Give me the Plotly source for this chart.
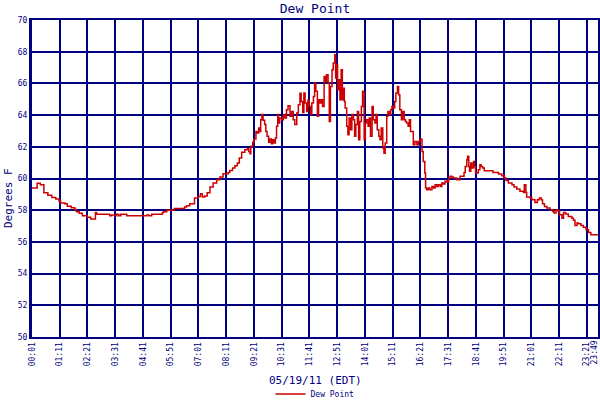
import plotly.graph_objects as go

# minutes after midnight on 05/19/11 (EDT)
minutes = [1, 14, 22, 31, 41, 51, 61, 69, 73, 84, 90, 100, 109, 113, 120, 128, 140, 149, 157, 161,
           164, 197, 202, 210, 215, 220, 225, 233, 240, 248, 291, 296, 303, 308, 330, 333, 341, 360,
           366, 386, 391, 399, 411, 420, 426, 431, 437, 443, 450, 458, 467, 475, 483, 496, 500, 507,
           513, 519, 524, 530, 538, 545, 548, 551, 553, 558, 561, 566, 569, 573, 576, 578, 581, 584,
           588, 591, 594, 598, 601, 605, 608, 611, 615, 618, 621, 623, 626, 631, 635, 639, 643, 647,
           652, 656, 660, 664, 669, 673, 677, 680, 684, 687, 690, 694, 697, 700, 704, 707, 711, 714,
           717, 721, 724, 727, 731, 734, 738, 741, 744, 748, 751, 754, 758, 761, 765, 767, 770, 772,
           775, 778, 781, 784, 786, 789, 791, 795, 798, 801, 805, 808, 812, 815, 818, 822, 825, 828,
           832, 835, 839, 842, 845, 849, 852, 855, 859, 862, 866, 869, 872, 876, 879, 882, 886, 889,
           892, 896, 899, 902, 906, 909, 913, 916, 919, 923, 926, 929, 933, 936, 940, 943, 946, 950,
           953, 956, 963, 967, 972, 976, 980, 984, 985, 988, 992, 994, 997, 1001, 1005, 1010, 1014,
           1018, 1022, 1026, 1031, 1035, 1039, 1043, 1048, 1052, 1056, 1060, 1064, 1073, 1081, 1091,
           1094, 1098, 1100, 1103, 1105, 1108, 1111, 1115, 1117, 1120, 1127, 1131, 1134, 1138, 1142,
           1164, 1178, 1186, 1193, 1197, 1203, 1212, 1217, 1224, 1232, 1241, 1243, 1247, 1249, 1258,
           1262, 1270, 1276, 1281, 1286, 1289, 1294, 1300, 1308, 1315, 1318, 1323, 1327, 1332, 1338,
           1342, 1347, 1354, 1363, 1367, 1371, 1376, 1380, 1386, 1392, 1399, 1405, 1411, 1429]

dew_point = [59.4, 59.7, 59.6, 59.1, 58.95, 58.8, 58.7, 58.6, 58.45, 58.4, 58.25, 58.15, 58.05, 57.9,
             57.8, 57.65, 57.55, 57.45, 57.45, 57.85, 57.75, 57.65, 57.7, 57.65, 57.75, 57.65, 57.75,
             57.75, 57.65, 57.65, 57.7, 57.65, 57.75, 57.75, 57.85, 57.9, 58.0, 58.1, 58.1, 58.2,
             58.28, 58.41, 58.77, 58.87, 59.04, 58.83, 58.9, 59.1, 59.46, 59.72, 59.92, 60.09, 60.3,
             60.38, 60.51, 60.66, 60.8, 60.98, 61.29, 61.65, 61.82, 61.88, 61.71, 61.56, 62.03, 62.28,
             62.49, 62.97, 62.87, 63.19, 62.97, 63.71, 64.03, 63.67, 63.4, 62.97, 62.66, 62.28, 62.49,
             62.2, 62.45, 62.24, 62.56, 63.29, 64.03, 63.5, 63.82, 63.71, 64.03, 63.82, 64.34, 64.59,
             63.92, 64.23, 63.71, 63.4, 64.13, 64.66, 65.38, 64.86, 64.17, 65.4, 64.76, 64.23, 64.93,
             64.55, 64.03, 64.76, 65.18, 66.03, 65.5, 63.92, 64.97, 64.76, 64.97, 64.55, 66.44, 66.13,
             66.55, 66.03, 63.6, 65.81, 66.86, 67.29, 67.81, 66.34, 67.18, 65.6, 66.23, 64.97, 66.86,
             64.97, 65.7, 64.86, 64.45, 63.29, 62.76, 63.82, 63.08, 64.03, 63.71, 62.66, 63.4, 64.23,
             62.45, 63.6, 64.55, 65.5, 62.45, 63.5, 63.71, 63.29, 63.82, 62.66, 64.55, 63.71, 63.5,
             64.03, 63.08, 62.66, 62.45, 63.19, 61.92, 61.6, 62.24, 63.92, 64.23, 64.03, 64.34, 64.55,
             64.45, 64.86, 65.4, 65.81, 65.29, 64.34, 63.71, 64.23, 63.71, 63.6, 63.5, 63.29, 63.71,
             62.97, 62.13, 62.34, 62.13, 62.34, 62.49, 62.45, 61.71, 61.08, 60.35, 59.4, 59.29, 59.4,
             59.29, 59.5, 59.4, 59.61, 59.5, 59.61, 59.5, 59.72, 59.66, 59.82, 59.76, 60.03, 60.14,
             60.09, 60.03, 59.92, 60.14, 60.38, 60.76, 61.19, 61.4, 60.76, 60.45, 60.98, 60.66, 61.08,
             60.76, 60.35, 60.55, 60.87, 60.76, 60.66, 60.49, 60.38, 60.28, 60.18, 60.03, 59.88,
             59.72, 59.61, 59.46, 59.33, 59.19, 59.12, 59.61, 59.12, 58.83, 58.77, 58.66, 58.49,
             58.66, 58.77, 58.66, 58.41, 58.24, 58.14, 58.03, 57.92, 57.82, 58.03, 57.97, 57.72,
             57.5, 57.86, 57.76, 57.6, 57.5, 57.36, 57.03, 57.2, 57.14, 57.03, 56.92, 56.77, 56.6,
             56.45, 56.45]

tick_minutes = [1, 71, 141, 211, 281, 351, 421, 491, 561, 631, 701, 771, 841, 911, 981, 1051,
                1121, 1191, 1261, 1331, 1401, 1429]
tick_labels = ["00:01", "01:11", "02:21", "03:31", "04:41", "05:51", "07:01", "08:11", "09:21",
               "10:31", "11:41", "12:51", "14:01", "15:11", "16:21", "17:31", "18:41", "19:51",
               "21:01", "22:11", "23:21", "23:49"]
y_ticks = [50, 52, 54, 56, 58, 60, 62, 64, 66, 68, 70]

NAVY = "#000080"
RED = "#CC0000"
FONT = "DejaVu Sans Mono"

# last tick label is drawn as an annotation so that it stays inside the page edge
axis_text = tick_labels[:-1] + [""]

fig = go.Figure()
fig.add_trace(go.Scatter(x=minutes, y=dew_point, mode="lines", name="Dew Point",
                         line=dict(color=RED, width=1.5, shape="hv")))

fig.update_layout(
    width=600, height=400,
    margin=dict(l=32, r=2, t=20, b=63, autoexpand=False),
    paper_bgcolor="white", plot_bgcolor="white",
    font=dict(family=FONT, color=NAVY, size=8),
    title=dict(text="Dew Point", x=315/600, xanchor="center", y=1-8/400, yanchor="middle",
               font=dict(family=FONT, size=13, color=NAVY)),
    showlegend=True,
    legend=dict(orientation="h", x=0.5, xanchor="center", y=-(394-337)/317, yanchor="middle",
                font=dict(family=FONT, size=8, color=NAVY), itemwidth=30,
                bgcolor="rgba(0,0,0,0)"),
    xaxis=dict(range=[1, 1429], tickmode="array", tickvals=tick_minutes, ticktext=axis_text,
               tickangle=-90, showgrid=True, gridcolor=NAVY, gridwidth=2,
               showline=True, linecolor=NAVY, linewidth=2, mirror=True, automargin=False,
               ticks="", zeroline=False, tickfont=dict(family=FONT, size=8, color=NAVY)),
    yaxis=dict(range=[50, 70], tickmode="array", tickvals=y_ticks,
               showgrid=True, gridcolor=NAVY, gridwidth=2, automargin=False,
               showline=True, linecolor=NAVY, linewidth=3, mirror=True,
               ticks="", zeroline=False, tickfont=dict(family=FONT, size=8, color=NAVY)),
    annotations=[
        dict(text="Degrees F", xref="paper", yref="paper", x=(8-32)/566, y=(337-198)/317,
             xanchor="center", yanchor="middle", textangle=-90, showarrow=False,
             font=dict(family=FONT, size=11, color=NAVY)),
        dict(text="05/19/11 (EDT)", xref="paper", yref="paper", x=(315-32)/566, y=-(380-337)/317,
             xanchor="center", yanchor="middle", showarrow=False,
             font=dict(family=FONT, size=11, color=NAVY)),
        dict(text=tick_labels[-1], xref="x", yref="paper", x=tick_minutes[-1], y=0,
             xanchor="right", yanchor="top", xshift=2, yshift=-2, textangle=-90,
             showarrow=False, font=dict(family=FONT, size=8, color=NAVY)),
    ],
)

# remove the browser's default page margin so the 600x400 figure fills the window
fig.write_html("out.html", config={"displayModeBar": False},
               post_script="document.body.style.margin='0px';")
